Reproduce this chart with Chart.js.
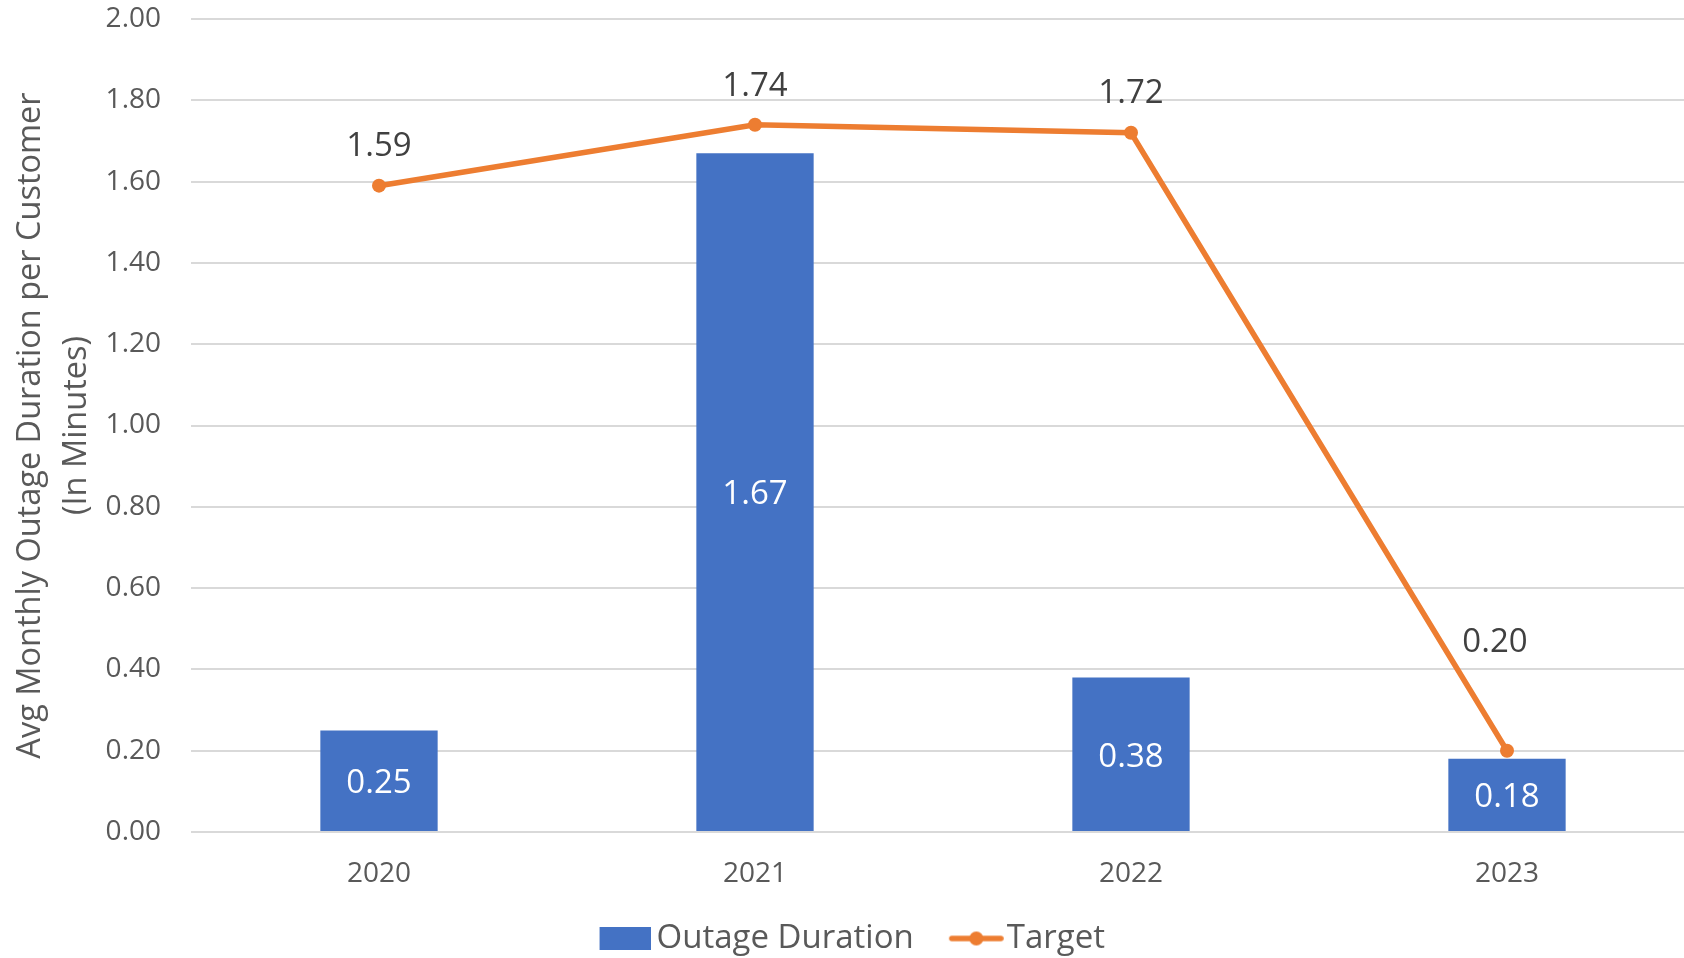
<!DOCTYPE html>
<html>
<head>
<meta charset="utf-8">
<script src="https://cdn.jsdelivr.net/npm/chart.js@4/dist/chart.umd.min.js"></script>
<style>
html,body{margin:0;padding:0;background:#fff;overflow:hidden;}
#wrap{width:1702px;height:965px;position:relative}
</style>
</head>
<body>
<div id="wrap"><canvas id="c" width="1702" height="965"></canvas></div>
<script>
const categories = ['2020', '2021', '2022', '2023'];
const outageDuration = [0.25, 1.67, 0.38, 0.18];
const target = [1.59, 1.74, 1.72, 0.20];
const yTicks = [0, 0.2, 0.4, 0.6, 0.8, 1.0, 1.2, 1.4, 1.6, 1.8, 2.0];
const yTitle = ['Avg Monthly Outage Duration per Customer', '(In Minutes)'];

const BLUE = '#4472C4', ORANGE = '#ED7D31', TXT = '#595959', GRID = '#D9D9D9';
const FONT = "'Open Sans', 'Noto Sans', sans-serif";

// legend swatches (transparent left margin keeps Chart.js spacing like the original)
function makeBox() {
  const c = document.createElement('canvas'); c.width = 65; c.height = 23;
  const x = c.getContext('2d'); x.fillStyle = BLUE; x.fillRect(14, 0, 51, 23); return c;
}
function makeLine() {
  const c = document.createElement('canvas'); c.width = 71; c.height = 16;
  const x = c.getContext('2d'); x.strokeStyle = ORANGE; x.lineWidth = 5.5; x.lineCap = 'round';
  x.beginPath(); x.moveTo(19, 8); x.lineTo(68, 8); x.stroke();
  x.fillStyle = ORANGE; x.beginPath(); x.arc(43.5, 8, 7, 0, Math.PI * 2); x.fill(); return c;
}
const boxImg = makeBox(), lineImg = makeLine();

const labelPlugin = {
  id: 'valueLabels',
  afterDatasetsDraw(chart) {
    const ctx = chart.ctx;
    ctx.save();
    ctx.textAlign = 'center';
    ctx.textBaseline = 'middle';
    const mb = chart.getDatasetMeta(0);
    ctx.font = '33px ' + FONT;
    ctx.fillStyle = '#FFFFFF';
    mb.data.forEach((el, i) => {
      ctx.fillText(outageDuration[i].toFixed(2), el.x, (el.y + el.base) / 2 + 3);
    });
    const ml = chart.getDatasetMeta(1);
    ctx.fillStyle = '#404040';
    const shift = [[0, -39], [0, -38], [0, -39], [-12, -108]];
    ml.data.forEach((el, i) => {
      ctx.fillText(target[i].toFixed(2), el.x + shift[i][0], el.y + shift[i][1]);
    });
    ctx.restore();
  }
};

new Chart(document.getElementById('c'), {
  data: {
    labels: categories,
    datasets: [
      {
        type: 'bar', label: 'Outage Duration', data: outageDuration,
        backgroundColor: BLUE, borderWidth: 0,
        barPercentage: 0.312, categoryPercentage: 1.0, order: 2
      },
      {
        type: 'line', label: 'Target', data: target,
        borderColor: ORANGE, backgroundColor: ORANGE, borderWidth: 5.5,
        pointRadius: 7, pointHoverRadius: 7, pointBackgroundColor: ORANGE,
        pointBorderWidth: 0, tension: 0, order: 1
      }
    ]
  },
  options: {
    responsive: false,
    animation: false,
    events: [],
    layout: { padding: { top: 19, right: 1, bottom: 0, left: 0 } },
    plugins: {
      tooltip: { enabled: false },
      legend: {
        position: 'bottom',
        labels: {
          usePointStyle: true,
          pointStyleWidth: 44,
          boxHeight: 23,
          padding: 32.5,
          color: TXT,
          font: { family: FONT, size: 33 },
          generateLabels(chart) {
            return [
              { text: 'Outage Duration', pointStyle: boxImg, fillStyle: BLUE, strokeStyle: BLUE, lineWidth: 0, datasetIndex: 0, fontColor: TXT },
              { text: 'Target', pointStyle: lineImg, fillStyle: ORANGE, strokeStyle: ORANGE, lineWidth: 0, datasetIndex: 1, fontColor: TXT }
            ];
          }
        }
      }
    },
    scales: {
      x: {
        type: 'category',
        offset: true,
        grid: { display: false, drawTicks: false },
        border: { display: false },
        ticks: { color: TXT, font: { family: FONT, size: 28 }, padding: 25, maxRotation: 0 },
        afterFit(s) { s.height = 57.5; s.paddingLeft = 0; s.paddingRight = 0; }
      },
      y: {
        min: 0, max: 2,
        afterBuildTicks(s) { s.ticks = yTicks.map(v => ({ value: v })); },
        grid: { color: GRID, lineWidth: 2, drawTicks: false },
        border: { display: false },
        ticks: {
          color: TXT, font: { family: FONT, size: 28 }, padding: 30,
          callback: v => Number(v).toFixed(2)
        },
        title: {
          display: true, text: yTitle, color: TXT,
          font: { family: FONT, size: 32.5, lineHeight: 1.4 },
          padding: { top: 8, bottom: 0 }
        },
        afterFit(s) { s.width = 191; s.paddingTop = 0; s.paddingBottom = 0; }
      }
    }
  },
  plugins: [labelPlugin]
});
</script>
</body>
</html>
